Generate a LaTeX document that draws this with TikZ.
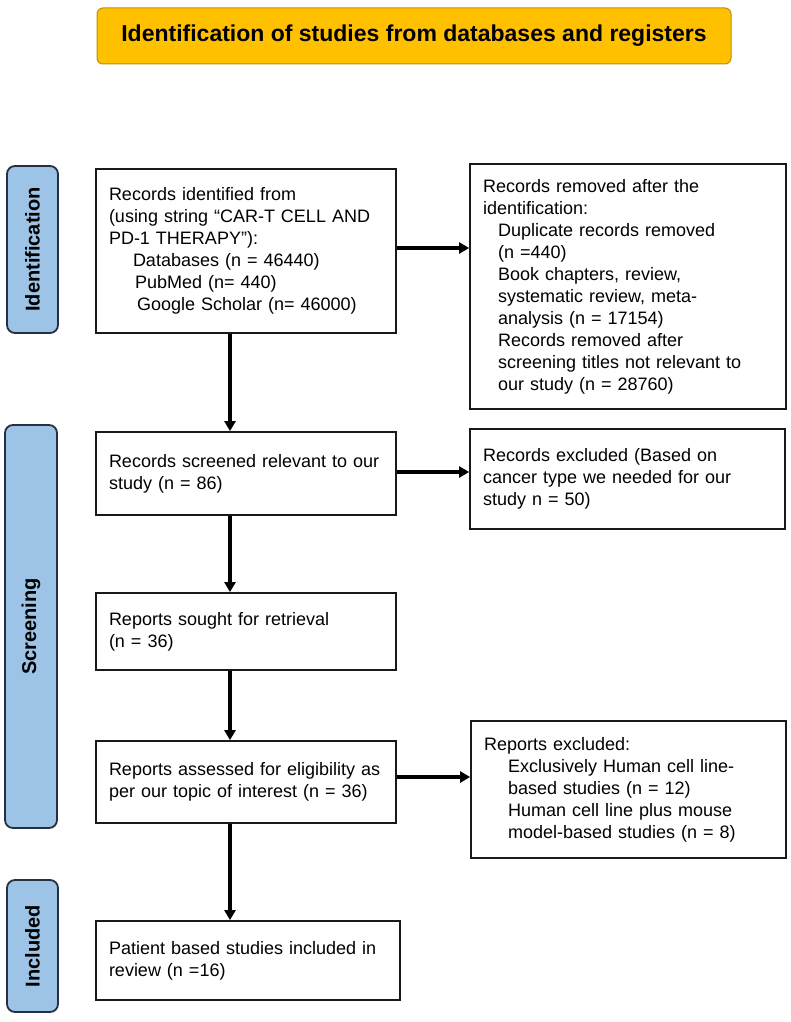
\documentclass[tikz,border=0pt]{standalone}
\usepackage{fontspec}
\setmainfont{Liberation Sans}
\usetikzlibrary{arrows.meta}
\definecolor{titlefill}{HTML}{FFC000}
\definecolor{titledraw}{HTML}{BF9000}
\definecolor{sidefill}{HTML}{9DC3E6}
\definecolor{sidedraw}{HTML}{263040}
\begin{document}
\begin{tikzpicture}[x=1pt,y=-1pt,
  titlebox/.style={draw=titledraw,fill=titlefill,line width=1pt,rounded corners=6pt,
    minimum width=634pt,minimum height=56pt,font=\fontsize{23}{27}\selectfont\bfseries},
  sidebox/.style={draw=sidedraw,fill=sidefill,line width=1.8pt,rounded corners=8pt,rotate=90,
    inner sep=0pt,font=\fontsize{20}{24}\selectfont\bfseries},
  flowbox/.style={draw=black!90,line width=1.8pt,inner xsep=13pt,inner ysep=0pt,
    align=left,font=\fontsize{18}{22}\selectfont},
  flowarrow/.style={line width=3.5pt,-{Triangle[width=11pt,length=10pt]}}
]
\useasboundingbox (0,0) rectangle (791,1022);
\node[titlebox] (title) at (414,36) {Identification of studies from databases and registers};

\node[sidebox,minimum width=167pt,minimum height=51pt] (sideid) at (32.5,249.5) {Identification};
\node[sidebox,minimum width=403pt,minimum height=52pt] (sidescr) at (31,626.5) {Screening};
\node[sidebox,minimum width=132pt,minimum height=51pt] (sideinc) at (32.5,946) {Included};

\node[flowbox,text width=274pt,minimum height=164pt] (b1) at (246,251)
 {Records identified from\\(using string “CAR-T CELL AND\\PD-1 THERAPY”):\\\hspace*{24pt}Databases (n = 46440)\\\hspace*{26pt}PubMed (n= 440)\\\hspace*{28pt}Google Scholar (n= 46000)};
\node[flowbox,text width=290pt,minimum height=245pt] (r1) at (628,286.5)
 {Records removed after the\\identification:\\\hspace*{15pt}Duplicate records removed\\\hspace*{15pt}(n =440)\\\hspace*{15pt}Book chapters, review,\\\hspace*{15pt}systematic review, meta-\\\hspace*{15pt}analysis (n = 17154)\\\hspace*{15pt}Records removed after\\\hspace*{15pt}screening titles not relevant to\\\hspace*{15pt}our study (n = 28760)};
\node[flowbox,text width=274pt,minimum height=83pt] (b2) at (246,473.5)
 {Records screened relevant to our\\study (n = 86)};
\node[flowbox,text width=289pt,minimum height=100pt] (r2) at (627.5,479)
 {Records excluded (Based on\\cancer type we needed for our\\study n = 50)};
\node[flowbox,text width=274pt,minimum height=77pt] (b3) at (246,631.5)
 {Reports sought for retrieval\\(n = 36)};
\node[flowbox,text width=274pt,minimum height=82pt] (b4) at (246,782)
 {Reports assessed for eligibility as\\per our topic of interest (n = 36)};
\node[flowbox,text width=289pt,minimum height=137pt] (r3) at (628.5,789.5)
 {Reports excluded:\\\hspace*{24pt}Exclusively Human cell line-\\\hspace*{24pt}based studies (n = 12)\\\hspace*{24pt}Human cell line plus mouse\\\hspace*{24pt}model-based studies (n = 8)};
\node[flowbox,text width=278pt,minimum height=79pt] (b5) at (248,960.5)
 {Patient based studies included in\\review (n =16)};

\coordinate (ax) at (230,0);
\coordinate (y1) at (0,248);
\coordinate (y2) at (0,472);
\coordinate (y4) at (0,777);
\draw[flowarrow] (b1.south -| ax) -- (b2.north -| ax);
\draw[flowarrow] (b2.south -| ax) -- (b3.north -| ax);
\draw[flowarrow] (b3.south -| ax) -- (b4.north -| ax);
\draw[flowarrow] (b4.south -| ax) -- (b5.north -| ax);
\draw[flowarrow] (b1.east |- y1) -- (r1.west |- y1);
\draw[flowarrow] (b2.east |- y2) -- (r2.west |- y2);
\draw[flowarrow] (b4.east |- y4) -- (r3.west |- y4);
\end{tikzpicture}
\end{document}
